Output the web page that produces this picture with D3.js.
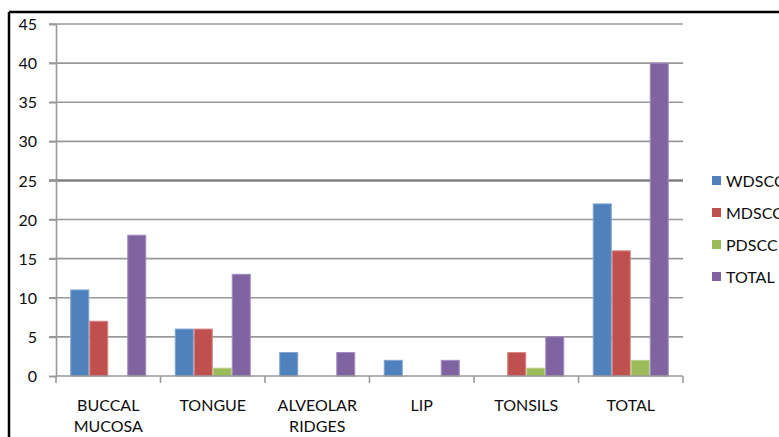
<!DOCTYPE html>
<html>
<head>
<meta charset="utf-8">
<script src="https://cdn.jsdelivr.net/npm/d3@7"></script>
<style>
  html, body { margin: 0; padding: 0; background: #fff; }
  svg { display: block; }
  text { font-family: Lato, "Open Sans", sans-serif; fill: #0d0d0d; }
</style>
</head>
<body>
<svg id="chart" width="779" height="437"></svg>
<script>
// Sites and grading series
const categories = [["BUCCAL", "MUCOSA"], ["TONGUE"], ["ALVEOLAR", "RIDGES"], ["LIP"], ["TONSILS"], ["TOTAL"]];
const seriesNames = ["WDSCC", "MDSCC", "PDSCC", "TOTAL"];
const wdscc = [11, 6, 3, 2, 0, 22];
const mdscc = [7, 6, 0, 0, 3, 16];
const pdscc = [0, 1, 0, 0, 1, 2];
const total = [18, 13, 3, 2, 5, 40];
const yTicks = [0, 5, 10, 15, 20, 25, 30, 35, 40, 45];
const colors = ["#4F81BD", "#C0504D", "#9BBB59", "#8064A2"];
const edgeColors = ["#7FA3D1", "#D88583", "#B9D38A", "#A28CBF"];

const seriesValues = [wdscc, mdscc, pdscc, total];
const svg = d3.select("#chart");

// chart frame (top and left edge visible)
svg.append("line").attr("x1", 9).attr("x2", 779).attr("y1", 12).attr("y2", 12)
  .attr("stroke", "#000").attr("stroke-width", 2.5);
svg.append("line").attr("x1", 9).attr("x2", 9).attr("y1", 12).attr("y2", 437)
  .attr("stroke", "#000").attr("stroke-width", 2.5);

const plot = { left: 56, right: 683, top: 24, bottom: 376 };
const catKeys = categories.map((c, i) => i);

const x = d3.scaleBand().domain(catKeys).range([plot.left, plot.right]).paddingInner(0).paddingOuter(0);
const y = d3.scaleLinear().domain([0, 45]).range([plot.bottom, plot.top]);
const xs = d3.scaleBand().domain(d3.range(seriesNames.length)).range([0, x.bandwidth()]).paddingOuter(0.75).paddingInner(0);

// gridlines with small tick marks on the left
const grid = svg.append("g");
grid.selectAll("line").data(yTicks.filter(t => t > 0)).join("line")
  .attr("x1", plot.left - 7).attr("x2", plot.right)
  .attr("y1", d => y(d)).attr("y2", d => y(d))
  .attr("stroke", d => d === 25 ? "#7f7f7f" : "#999")
  .attr("stroke-width", d => d === 25 ? 2.5 : 1.6);

// y axis
const yAxis = d3.axisLeft(y).tickValues(yTicks).tickSize(7).tickPadding(12);
const yg = svg.append("g").attr("transform", `translate(${plot.left},0)`).call(yAxis);
yg.select(".domain").attr("stroke", "#999").attr("stroke-width", 1.6);
yg.selectAll(".tick line").attr("stroke", "#999").attr("stroke-width", 1.6);
yg.selectAll(".tick text").attr("font-size", 16).attr("fill", "#0d0d0d").attr("dy", "0.35em")
  .attr("font-family", "Lato, sans-serif");

// bars
const groups = svg.append("g").selectAll("g").data(catKeys).join("g")
  .attr("transform", d => `translate(${x(d)},0)`);
groups.selectAll("rect")
  .data(ci => seriesValues.map((vals, si) => ({ si, v: vals[ci] })).filter(d => d.v > 0))
  .join("rect")
  .attr("x", d => xs(d.si) + 0.5)
  .attr("width", xs.bandwidth() - 1)
  .attr("y", d => y(d.v))
  .attr("height", d => y(0) - y(d.v))
  .attr("fill", d => colors[d.si])
  .attr("stroke", d => edgeColors[d.si])
  .attr("stroke-width", 1);

// x axis with tick marks between categories
const xg = svg.append("g");
xg.append("line").attr("x1", plot.left).attr("x2", plot.right)
  .attr("y1", plot.bottom).attr("y2", plot.bottom)
  .attr("stroke", "#999").attr("stroke-width", 1.6);
const bounds = catKeys.map(k => x(k)).concat([plot.right]);
xg.selectAll("line.tk").data(bounds).join("line").attr("class", "tk")
  .attr("x1", d => d).attr("x2", d => d)
  .attr("y1", plot.bottom).attr("y2", plot.bottom + 7)
  .attr("stroke", "#999").attr("stroke-width", 1.6);

// category labels
const lab = svg.append("g").selectAll("text").data(catKeys).join("text")
  .attr("x", d => x(d) + x.bandwidth() / 2)
  .attr("y", 411)
  .attr("text-anchor", "middle")
  .attr("font-size", 16);
lab.selectAll("tspan").data(d => categories[d]).join("tspan")
  .attr("x", function () { return d3.select(this.parentNode).attr("x"); })
  .attr("dy", (d, i) => i === 0 ? 0 : 21)
  .text(d => d);

// legend
const leg = svg.append("g").selectAll("g").data(seriesNames).join("g")
  .attr("transform", (d, i) => `translate(712,${181 + i * 32})`);
leg.append("rect").attr("x", 0).attr("y", -5).attr("width", 9).attr("height", 9)
  .attr("fill", (d, i) => colors[i]);
leg.append("text").attr("x", 14).attr("y", 0).attr("dy", "0.35em")
  .attr("font-size", 16).text(d => d);
</script>
</body>
</html>
